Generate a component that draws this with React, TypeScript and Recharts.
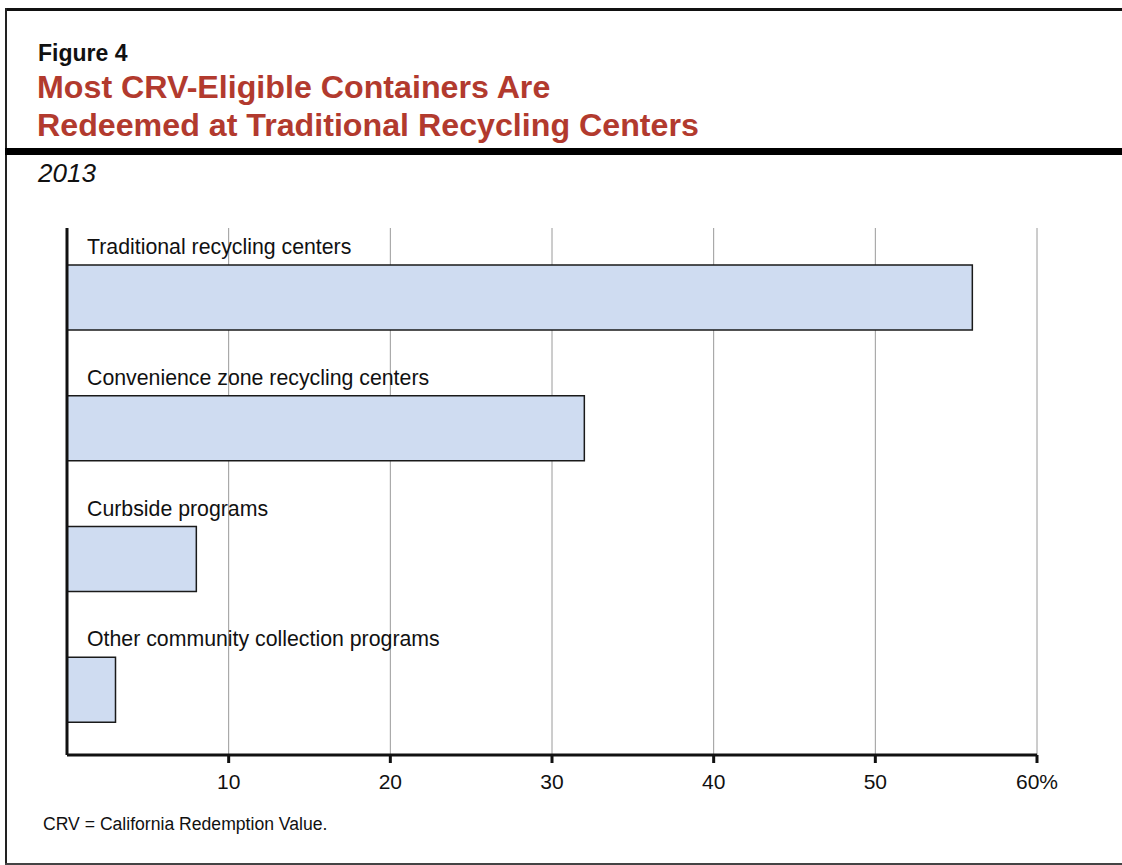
import React from "react";
import { BarChart, Bar, XAxis, YAxis, CartesianGrid, LabelList, ReferenceLine } from "recharts";

const categories = [
  "Traditional recycling centers",
  "Convenience zone recycling centers",
  "Curbside programs",
  "Other community collection programs",
];
const shares = [56, 32, 8, 3];
const xTicks = [10, 20, 30, 40, 50, 60];
const figureLabel = "Figure 4";
const titleLines = ["Most CRV-Eligible Containers Are", "Redeemed at Traditional Recycling Centers"];
const subtitle = "2013";
const footnote = "CRV = California Redemption Value.";

const data = categories.map((name, i) => ({ name, value: shares[i] }));

const FONT = "'Liberation Sans', Arial, Helvetica, sans-serif";

const XTick = (props: any) => {
  const { x, y, payload } = props;
  const label = payload.value === 60 ? "60%" : String(payload.value);
  return (
    <text x={x} y={y + 24} textAnchor="middle" fontSize={21} fill="#111" fontFamily={FONT}>
      {label}
    </text>
  );
};

const BarLabel = (props: any) => {
  const { x, y, value } = props;
  return (
    <text x={x + 20} y={y - 11} fontSize={21.3} fill="#111" fontFamily={FONT}>
      {value}
    </text>
  );
};

export default function App() {
  return (
    <div
      style={{
        position: "absolute",
        left: 0,
        top: 0,
        width: 1122,
        height: 865,
        overflow: "hidden",
        background: "#fff",
        fontFamily: FONT,
      }}
    >
      <svg width={1122} height={865} style={{ position: "absolute", left: 0, top: 0 }}>
        <rect x={5} y={8} width={1130} height={3} fill="#111" />
        <rect x={5} y={8} width={2} height={860} fill="#222" />
        <rect x={5} y={863} width={1130} height={2} fill="#444" />
        <rect x={5} y={148} width={1130} height={7} fill="#000" />
        <text x={38} y={61} fontSize={23} fontWeight="bold" fill="#111" fontFamily={FONT}>
          {figureLabel}
        </text>
        <text x={37} y={98} fontSize={32.2} fontWeight="bold" fill="#B23A2E" fontFamily={FONT}>
          {titleLines[0]}
        </text>
        <text x={37} y={136} fontSize={32.2} fontWeight="bold" fill="#B23A2E" fontFamily={FONT}>
          {titleLines[1]}
        </text>
        <text x={38} y={182} fontSize={26} fontStyle="italic" fill="#111" fontFamily={FONT}>
          {subtitle}
        </text>
        <text x={43} y={830} fontSize={17.6} fill="#111" fontFamily={FONT}>
          {footnote}
        </text>
      </svg>
      <div style={{ position: "absolute", left: 0, top: 0 }}>
        <BarChart
          width={1122}
          height={865}
          data={data}
          layout="vertical"
          margin={{ top: 228, right: 85, bottom: 80, left: 67 }}
          barSize={65}
        >
          <CartesianGrid horizontal={false} vertical={true} stroke="#9a9a9a" strokeWidth={1} />
          <XAxis
            type="number"
            domain={[0, 60]}
            ticks={xTicks}
            interval={0}
            height={30}
            axisLine={{ stroke: "#111", strokeWidth: 3 }}
            tickLine={{ stroke: "#111", strokeWidth: 3 }}
            tickSize={8}
            tickMargin={2}
            tick={<XTick />}
          />
          <YAxis
            type="category"
            dataKey="name"
            width={0}
            tick={false}
            tickLine={false}
            axisLine={false}
            padding={{ top: 4, bottom: 0 }}
          />
          <Bar dataKey="value" fill="#CFDCF1" stroke="#1a1a1a" strokeWidth={1.5} isAnimationActive={false}>
            <LabelList dataKey="name" content={<BarLabel />} />
          </Bar>
          <ReferenceLine x={0} stroke="#111" strokeWidth={3} ifOverflow="visible" />
        </BarChart>
      </div>
    </div>
  );
}
